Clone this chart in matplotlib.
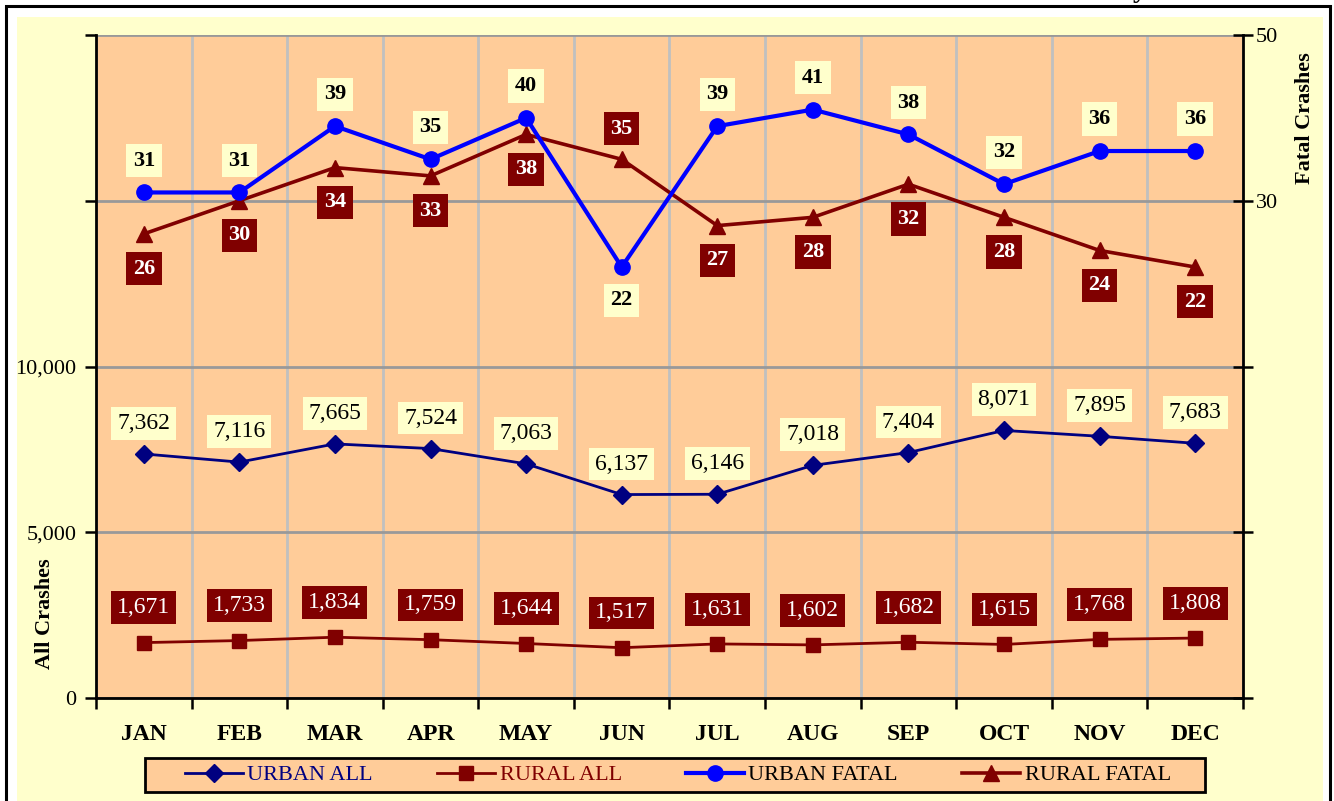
import matplotlib
matplotlib.use("Agg")
import matplotlib.pyplot as plt
from matplotlib.patches import Rectangle
from matplotlib.lines import Line2D
from matplotlib.ticker import FuncFormatter

months = ["JAN", "FEB", "MAR", "APR", "MAY", "JUN", "JUL", "AUG", "SEP", "OCT", "NOV", "DEC"]
urban_all = [7362, 7116, 7665, 7524, 7063, 6137, 6146, 7018, 7404, 8071, 7895, 7683]
rural_all = [1671, 1733, 1834, 1759, 1644, 1517, 1631, 1602, 1682, 1615, 1768, 1808]
urban_fatal = [31, 31, 39, 35, 40, 22, 39, 41, 38, 32, 36, 36]
rural_fatal = [26, 30, 34, 33, 38, 35, 27, 28, 32, 28, 24, 22]

NAVY = "#000080"
MAROON = "#800000"
BLUE = "#0000FF"
PEACH = "#FFCC99"
CREAM = "#FFFFCC"
SERIF = ["Liberation Serif", "DejaVu Serif"]

plt.rcParams["font.family"] = SERIF

W, H = 1334, 801
fig = plt.figure(figsize=(W / 100, H / 100), dpi=100, facecolor="white")


def fx(px):
    return px / W


def fy(py):
    return 1 - py / H


# chart background and outer border (behind the axes)
fig.patches.append(Rectangle((fx(17), fy(830)), fx(1323) - fx(17), fy(17) - fy(830),
                             transform=fig.transFigure, facecolor=CREAM, edgecolor="none", zorder=-2))
fig.patches.append(Rectangle((fx(6), fy(830)), fx(1330) - fx(6), fy(6) - fy(830),
                             transform=fig.transFigure, facecolor="none", edgecolor="black",
                             linewidth=2.2, zorder=-1))

ax = fig.add_axes([fx(96), fy(698), fx(1243) - fx(96), fy(35) - fy(698)])
ax.set_facecolor(PEACH)
x = list(range(len(months)))

# left axis: all crashes
ax.set_xlim(-0.5, 11.5)
ax.set_ylim(0, 20000)
ax.set_yticks([0, 5000, 10000, 15000, 20000])
ax.yaxis.set_major_formatter(FuncFormatter(lambda v, p: f"{int(v):,}" if v <= 10000 else ""))
ax.set_xticks(x)
ax.set_xticklabels(months, fontweight="bold", fontsize=17)
ax.set_xticks([i - 0.5 for i in range(13)], minor=True)
ax.tick_params(axis="x", which="major", length=0, pad=19)
ax.tick_params(axis="x", which="minor", length=8, width=1.8, direction="out")
ax.tick_params(axis="y", length=8, width=1.8, direction="out", labelsize=16, pad=6)
ax.grid(axis="y", color="#999999", linewidth=2, zorder=0)
ax.grid(axis="x", which="minor", color="#C0C0C0", linewidth=2, zorder=0)
ax.set_axisbelow(True)
for s in ("left", "bottom"):
    ax.spines[s].set_linewidth(2)
ax.spines["top"].set_visible(False)
ax.spines["right"].set_visible(False)

ax.plot(x, urban_all, color=NAVY, lw=2, marker="D", ms=9, zorder=3)
ax.plot(x, rural_all, color=MAROON, lw=2, marker="s", ms=10, zorder=3)

for xi, v in zip(x, urban_all):
    ax.annotate(f"{v:,}", (xi, v), xytext=(0, 22), textcoords="offset points",
                ha="center", va="center", fontsize=17, color="black", zorder=5,
                bbox=dict(boxstyle="square,pad=0.25", fc=CREAM, ec="none"))
for xi, v in zip(x, rural_all):
    ax.annotate(f"{v:,}", (xi, v), xytext=(0, 25), textcoords="offset points",
                ha="center", va="center", fontsize=17, color="white", zorder=5,
                bbox=dict(boxstyle="square,pad=0.25", fc=MAROON, ec="none"))

# right axis: fatal crashes
ax2 = ax.twinx()
ax2.set_ylim(-30, 50)
ax2.set_yticks([-30, -10, 10, 30, 50])
ax2.yaxis.set_major_formatter(FuncFormatter(lambda v, p: f"{int(v)}" if v >= 30 else ""))
ax2.tick_params(axis="y", length=14, width=1.8, direction="inout", labelsize=16, pad=2)
ax2.spines["right"].set_linewidth(2)
for s in ("left", "top", "bottom"):
    ax2.spines[s].set_visible(False)
ax2.patch.set_visible(False)

ax2.plot(x, rural_fatal, color=MAROON, lw=2.6, marker="^", ms=11, zorder=3)
ax2.plot(x, urban_fatal, color=BLUE, lw=3, marker="o", ms=11, zorder=3)

for xi, (u, r) in enumerate(zip(urban_fatal, rural_fatal)):
    u_up = u >= r
    ax2.annotate(f"{u}", (xi, u), xytext=(0, 23 if u_up else -24), textcoords="offset points",
                 ha="center", va="center", fontsize=16, fontweight="bold", color="black", zorder=5,
                 bbox=dict(boxstyle="square,pad=0.3", fc=CREAM, ec="none"))
    ax2.annotate(f"{r}", (xi, r), xytext=(0, -25 if u_up else 22), textcoords="offset points",
                 ha="center", va="center", fontsize=16, fontweight="bold", color="white", zorder=5,
                 bbox=dict(boxstyle="square,pad=0.3", fc=MAROON, ec="none"))

# axis titles
fig.text(fx(45), fy(614), "All Crashes", rotation=90, ha="center", va="center",
         fontsize=16, fontweight="bold")
fig.text(fx(1305), fy(118), "Fatal Crashes", rotation=90, ha="center", va="center",
         fontsize=16, fontweight="bold")

# cut-off title fragment at the very top
fig.text(fx(1140), 1 + 3 / H, "y", ha="center", va="baseline", fontsize=20,
         fontweight="bold")

# legend
fig.patches.append(Rectangle((fx(145), fy(792)), fx(1205) - fx(145), fy(758) - fy(792),
                             transform=fig.transFigure, facecolor=PEACH, edgecolor="black",
                             linewidth=2, zorder=2))
handles = [
    Line2D([], [], color=NAVY, lw=2, marker="D", ms=9),
    Line2D([], [], color=MAROON, lw=2, marker="s", ms=10),
    Line2D([], [], color=BLUE, lw=3, marker="o", ms=11),
    Line2D([], [], color=MAROON, lw=2.6, marker="^", ms=11),
]
labels = ["URBAN ALL", "RURAL ALL", "URBAN FATAL", "RURAL FATAL"]
leg = fig.legend(handles, labels, loc="center", bbox_to_anchor=(fx(678), fy(775)),
                 ncol=4, frameon=False, fontsize=16, handlelength=2.6,
                 handletextpad=0.2, columnspacing=2.9)
for t, c in zip(leg.get_texts(), [NAVY, MAROON, "black", "black"]):
    t.set_color(c)

fig.savefig("out.png", dpi=100, facecolor=fig.get_facecolor())
